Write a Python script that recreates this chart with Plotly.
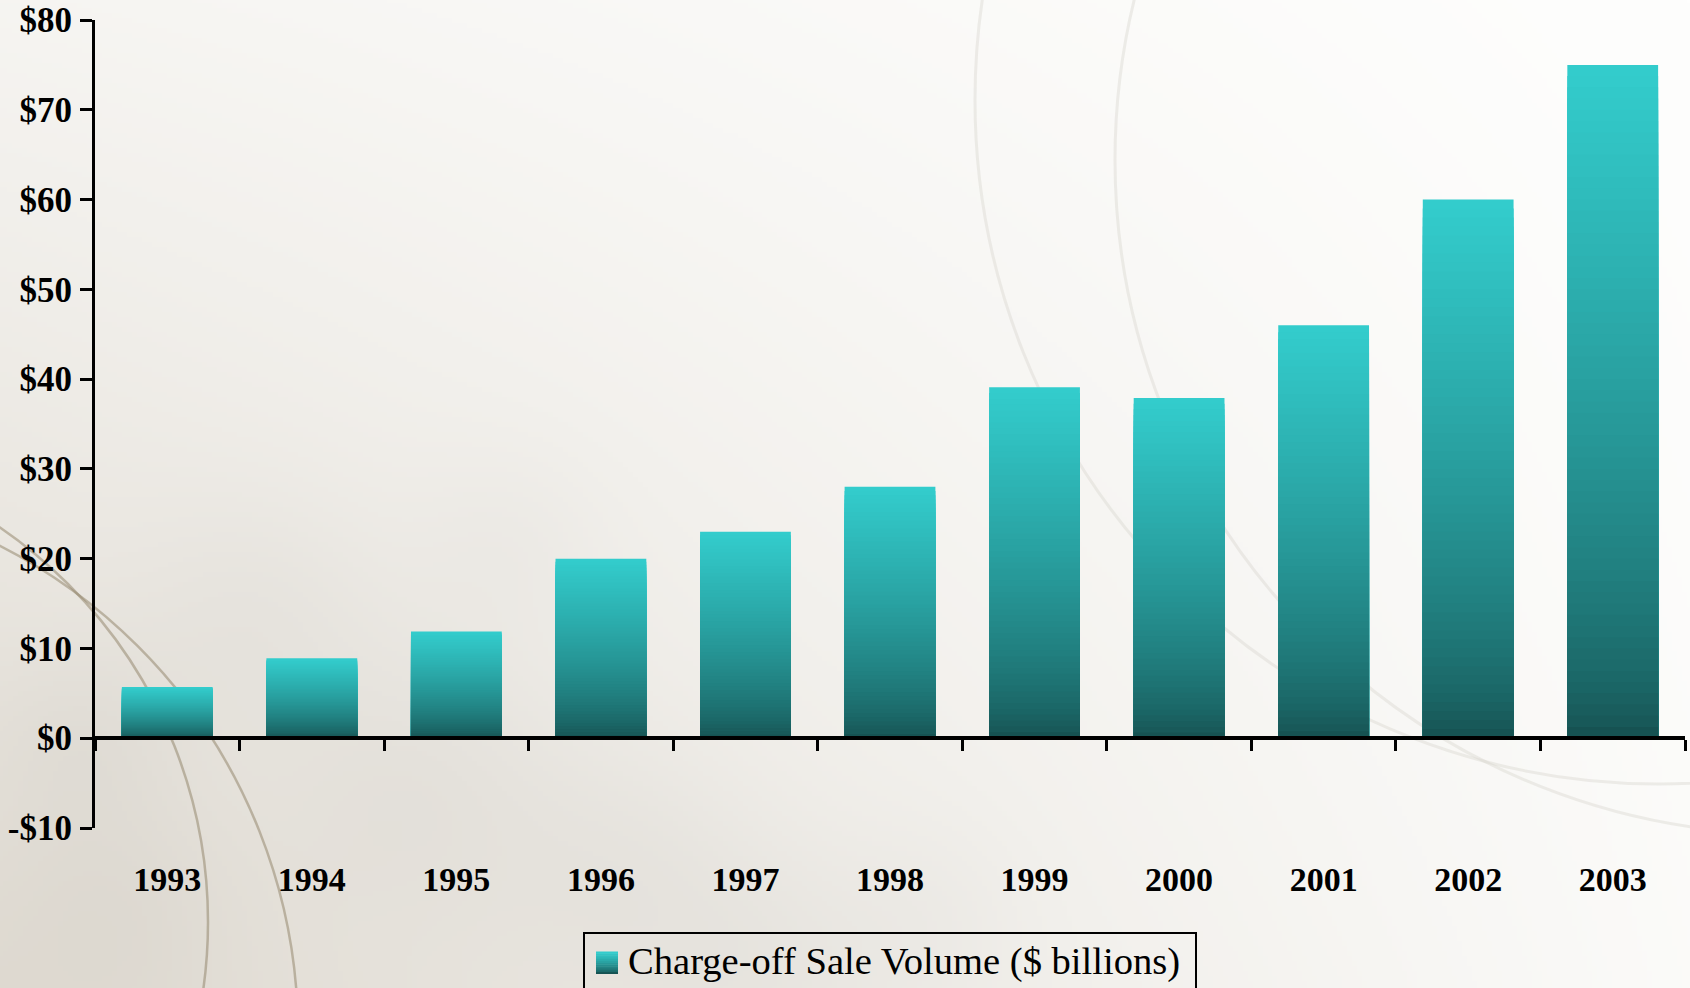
import base64
import struct
import zlib

import numpy as np
import plotly.graph_objects as go

# ---- data -------------------------------------------------------------
years = ["1993", "1994", "1995", "1996", "1997", "1998",
         "1999", "2000", "2001", "2002", "2003"]
volume = [5.7, 8.9, 11.9, 20.0, 23.0, 28.0, 39.1, 37.9, 46.0, 60.0, 75.0]

y_tick_vals = [-10, 0, 10, 20, 30, 40, 50, 60, 70, 80]
y_tick_text = ["-$10", "$0", "$10", "$20", "$30", "$40", "$50", "$60", "$70", "$80"]

legend_label = "Charge-off Sale Volume ($ billions)"

# ---- page geometry ------------------------------------------------------
W, H = 1690, 988
L, R, T, B = 95, 5, 20, 160
PW, PH = W - L - R, H - T - B


def fx(px):
    return (px - L) / PW


def fy(py):
    return (T + PH - py) / PH


# ---- colours ------------------------------------------------------------
TOP = np.array([51, 204, 204])
BOTTOM = np.array([22, 82, 82])


def shade(t):
    c = BOTTOM + (TOP - BOTTOM) * (t ** 0.7)
    return "rgb(%d,%d,%d)" % tuple(int(round(v)) for v in c)


# ---- soft paper backdrop --------------------------------------------------
def backdrop(w=338, h=198):
    u = np.linspace(0, 1, w)[None, :]
    v = np.linspace(0, 1, h)[:, None]
    k = ((1 - u) * (1 - v) * 0.30 + (1 - u) * v * 1.0 + u * v * 0.12)
    k = np.clip(k, 0, 1) ** 1.1
    white = np.array([254, 254, 253])[None, None, :]
    beige = np.array([224, 219, 210])[None, None, :]
    img = white + (beige - white) * k[..., None]
    # mottled grey smudges in the lower left
    blobs = [(0.15, 0.62, 0.05, 0.07), (0.25, 0.80, 0.06, 0.09), (0.37, 0.88, 0.05, 0.07),
             (0.07, 0.92, 0.05, 0.08), (0.45, 0.97, 0.05, 0.07), (0.30, 0.55, 0.04, 0.05),
             (0.55, 0.93, 0.04, 0.05), (0.05, 0.75, 0.04, 0.08)]
    for bx, by, s, a in blobs:
        g = np.exp(-(((u - bx) / s) ** 2 + ((v - by) / (s * 1.7)) ** 2) / 2)
        img = img - 70 * a * g[..., None]
    arr = np.clip(img, 0, 255).astype(np.uint8)
    raw = b"".join(b"\x00" + row.tobytes() for row in arr)

    def chunk(tag, data):
        return (struct.pack(">I", len(data)) + tag + data
                + struct.pack(">I", zlib.crc32(tag + data) & 0xFFFFFFFF))

    png = (b"\x89PNG\r\n\x1a\n"
           + chunk(b"IHDR", struct.pack(">IIBBBBB", w, h, 8, 2, 0, 0, 0))
           + chunk(b"IDAT", zlib.compress(raw, 9))
           + chunk(b"IEND", b""))
    return "data:image/png;base64," + base64.b64encode(png).decode()


# ---- bars with a vertical gradient --------------------------------------
# Full-height bright layer first, then progressively shorter, darker layers
# drawn from zero on top of it, so each band shows one shade.
N = 60
fig = go.Figure()
vals = np.array(volume)
for k in range(N):
    frac = (N - k) / N
    fig.add_trace(go.Bar(
        x=years, y=vals * frac,
        marker=dict(color=shade((N - k - 1) / (N - 1)), line=dict(width=0)),
        showlegend=False,
        hoverinfo="x+text" if k == 0 else "skip",
        hovertext=["$%.1f billion" % v for v in volume] if k == 0 else None,
        textposition="none",
    ))

# ---- decorative arcs ----------------------------------------------------
shapes = []


def circle(cx, cy, r, color, width):
    return dict(type="circle", xref="paper", yref="paper", layer="below",
                x0=fx(cx - r), x1=fx(cx + r), y0=fy(cy + r), y1=fy(cy - r),
                line=dict(color=color, width=width))


shapes.append(circle(1659, 100, 684, "rgba(215,212,204,0.40)", 3))
shapes.append(circle(1789, 160, 674, "rgba(215,212,204,0.40)", 3))
shapes.append(circle(-270, 922, 478, "rgba(150,136,112,0.55)", 2.5))
shapes.append(circle(-249, 1033, 547, "rgba(150,136,112,0.55)", 2.5))

# ---- legend box ---------------------------------------------------------
shapes.append(dict(type="rect", xref="paper", yref="paper", layer="above",
                   x0=fx(584), x1=fx(1196), y0=fy(1010), y1=fy(933),
                   line=dict(color="black", width=2), fillcolor="rgba(0,0,0,0)"))
SQ = 12
for i in range(SQ):
    y_lo = 974 - 22 * i / SQ
    y_hi = 974 - 22 * (i + 1) / SQ
    shapes.append(dict(type="rect", xref="paper", yref="paper", layer="above",
                       x0=fx(596), x1=fx(618), y0=fy(y_lo), y1=fy(y_hi - 0.5),
                       line=dict(width=0), fillcolor=shade(i / (SQ - 1))))

serif = "Liberation Serif, Times New Roman, serif"

fig.update_layout(
    width=W, height=H,
    margin=dict(l=L, r=R, t=T, b=B, autoexpand=False),
    paper_bgcolor="white",
    plot_bgcolor="rgba(0,0,0,0)",
    barmode="overlay",
    bargap=0.372,
    showlegend=False,
    shapes=shapes,
    images=[dict(source=backdrop(), xref="paper", yref="paper",
                 x=fx(0), y=fy(0), sizex=W / PW, sizey=H / PH,
                 xanchor="left", yanchor="top", sizing="stretch",
                 layer="below")],
    annotations=[dict(text=legend_label, xref="paper", yref="paper",
                      x=fx(626), y=fy(961), xanchor="left", yanchor="middle",
                      showarrow=False,
                      font=dict(family=serif, size=38.6, color="black"))],
    xaxis=dict(
        type="category", categoryorder="array", categoryarray=years,
        range=[-0.5, len(years) - 0.5],
        anchor="free", position=1 / 9,
        showline=True, linecolor="black", linewidth=4,
        ticks="outside", tickson="boundaries", ticklen=11, tickwidth=3,
        tickcolor="black", ticklabelstandoff=110,
        tickfont=dict(family=serif, size=34, color="black", weight="bold"),
        showgrid=False, zeroline=False, fixedrange=True,
    ),
    yaxis=dict(
        range=[-10, 80], tickmode="array",
        tickvals=y_tick_vals, ticktext=y_tick_text,
        showline=True, linecolor="black", linewidth=3,
        ticks="outside", ticklen=12, tickwidth=3, tickcolor="black",
        ticklabelstandoff=1,
        tickfont=dict(family=serif, size=35, color="black", weight="bold"),
        showgrid=False, zeroline=False, fixedrange=True,
    ),
)

fig.write_html("out.html")
